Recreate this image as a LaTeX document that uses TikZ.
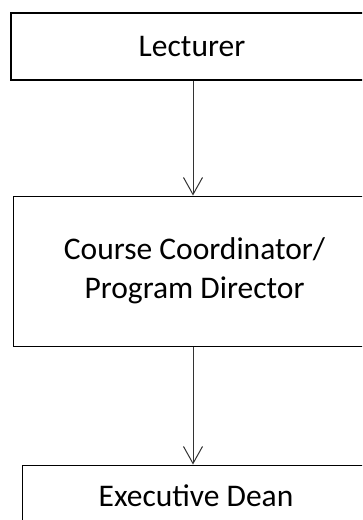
\documentclass[tikz,border=0pt]{standalone}
\usepackage{fontspec}
\setmainfont{Carlito}
\usetikzlibrary{arrows.meta}
\begin{document}
\begin{tikzpicture}[x=1pt,y=1pt,
  box/.style={draw=black, line width=1pt, inner sep=0pt, fill=white,
    font=\fontsize{31.5}{38.5}\selectfont, align=center},
  conn/.style={draw=black!80, line width=1pt, -{Straight Barb[length=17pt,width=19pt,line width=1pt]}}]
\useasboundingbox (0,0) rectangle (362,-520);
\clip (0,0) rectangle (362,-520);
\node[box, line width=2pt, minimum width=362pt, minimum height=67pt] (lec) at (192,-46.5) {Lecturer};
\node[box, minimum width=362pt, minimum height=150pt] (cc) at (194.5,-271) {Course Coordinator/\\Program Director};
\node[box, minimum width=348pt, minimum height=100pt] (ed) at (196,-515) {};
\node[font=\fontsize{31.5}{38.5}\selectfont] (edt) at (196,-495.5) {Executive Dean};
\draw[conn] (lec.south -| 193,0) -- (cc.north -| 193,0);
\draw[conn] (cc.south -| 193,0) -- (ed.north -| 193,0);
\end{tikzpicture}
\end{document}
